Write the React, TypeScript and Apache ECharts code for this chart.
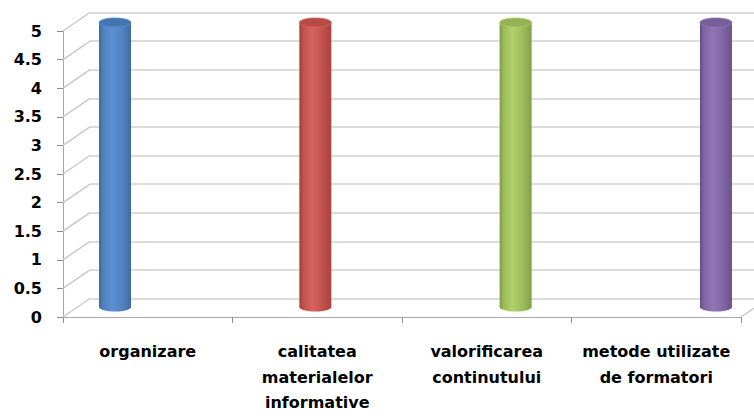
import React, { useEffect, useRef } from "react";
import * as echarts from "echarts";

const categories = [
  "organizare",
  "calitatea\nmaterialelor\ninformative",
  "valorificarea\ncontinutului",
  "metode utilizate\nde formatori",
];
const values = [5, 5, 5, 5];
const yTicks = [0, 0.5, 1, 1.5, 2, 2.5, 3, 3.5, 4, 4.5, 5];
const barColors = [
  { edge: "#3B659C", light: "#5D90D4", mid: "#4F81BD", right: "#3F6BA4", top: "#4474B0" },
  { edge: "#9E3E3B", light: "#D66460", mid: "#C0504D", right: "#A8433F", top: "#B54A47" },
  { edge: "#7C9A43", light: "#AFD06A", mid: "#9BBB59", right: "#82A047", top: "#93B354" },
  { edge: "#634C83", light: "#9275B8", mid: "#8064A2", right: "#69518A", top: "#785D99" },
];

const FONT = "DejaVu Sans";
const FRONT = { left: 63, top: 31, width: 678, height: 286 };
const BACK = { left: 90, top: 12.5, width: 678, height: 286 };
const CYL = { left: 90, top: 22.5, width: 650, height: 284.5 };

export default function App() {
  const ref = useRef<HTMLDivElement>(null);
  useEffect(() => {
    const chart = echarts.init(ref.current!, null, { renderer: "svg" });
    const dx = BACK.left - FRONT.left;
    const dy = BACK.top - FRONT.top;
    const option: any = {
      animation: false,
      backgroundColor: "#ffffff",
      grid: [
        { ...FRONT, outerBoundsMode: "none", containLabel: false },
        { ...BACK, outerBoundsMode: "none", containLabel: false },
        { ...CYL, outerBoundsMode: "none", containLabel: false },
      ],
      xAxis: [
        {
          gridIndex: 0,
          type: "category",
          data: categories,
          axisLine: { show: true, lineStyle: { color: "#A6A6A6", width: 1 } },
          axisTick: { show: true, length: 6, lineStyle: { color: "#8C8C8C" } },
          axisLabel: {
            fontFamily: FONT,
            fontWeight: "bold",
            fontSize: 16,
            color: "#000",
            lineHeight: 25.5,
            margin: 22,
            interval: 0,
          },
          splitLine: { show: false },
        },
        { gridIndex: 1, type: "value", min: 0, max: 1, show: false },
        { gridIndex: 2, type: "value", min: -0.125, max: 3.12, show: false },
      ],
      yAxis: [
        {
          gridIndex: 0,
          type: "value",
          min: 0,
          max: 5,
          interval: 0.5,
          axisLine: { show: true, lineStyle: { color: "#A6A6A6", width: 1 } },
          axisTick: { show: true, length: 6, lineStyle: { color: "#8C8C8C" } },
          axisLabel: {
            fontFamily: FONT,
            fontWeight: "bold",
            fontSize: 16,
            color: "#000",
            margin: 21,
          },
          splitLine: { show: false },
        },
        {
          gridIndex: 1,
          type: "value",
          min: 0,
          max: 5,
          interval: 0.5,
          axisLine: { show: false },
          axisTick: { show: false },
          axisLabel: { show: false },
          splitLine: { show: true, lineStyle: { color: "#D0D0D0", width: 1.6 } },
        },
        { gridIndex: 2, type: "value", min: 0, max: 5, show: false },
      ],
      series: [
        {
          type: "custom",
          xAxisIndex: 0,
          yAxisIndex: 0,
          silent: true,
          data: yTicks.map((v) => [0, v]),
          renderItem: (params: any, api: any) => {
            const v = api.value(1);
            const y = api.coord([0, v])[1];
            const x = params.coordSys.x;
            return {
              type: "line",
              shape: { x1: x, y1: y, x2: x + dx, y2: y + dy },
              style: { stroke: "#C8C8C8", lineWidth: 1.4 },
            };
          },
        },
        {
          type: "custom",
          xAxisIndex: 0,
          yAxisIndex: 0,
          silent: true,
          data: [[categories.length - 1, 0]],
          renderItem: (params: any, api: any) => {
            const y = api.coord([0, 0])[1];
            const x = params.coordSys.x + params.coordSys.width;
            return {
              type: "line",
              shape: { x1: x, y1: y, x2: x + dx, y2: y + dy },
              style: { stroke: "#C8C8C8", lineWidth: 1.4 },
            };
          },
        },
        {
          type: "custom",
          xAxisIndex: 2,
          yAxisIndex: 2,
          silent: true,
          data: values.map((v, i) => [i, v]),
          renderItem: (params: any, api: any) => {
            const i = api.value(0);
            const top = api.coord([i, api.value(1)]);
            const base = api.coord([i, 0]);
            const c = barColors[params.dataIndex % barColors.length];
            const w = 32;
            const rx = w / 2;
            const ry = 4.5;
            const grad = {
              type: "linear",
              x: 0,
              y: 0,
              x2: 1,
              y2: 0,
              colorStops: [
                { offset: 0, color: c.edge },
                { offset: 0.12, color: c.mid },
                { offset: 0.4, color: c.light },
                { offset: 0.75, color: c.mid },
                { offset: 1, color: c.right },
              ],
            };
            return {
              type: "group",
              children: [
                {
                  type: "ellipse",
                  shape: { cx: base[0], cy: base[1], rx, ry },
                  style: { fill: grad },
                },
                {
                  type: "rect",
                  shape: { x: top[0] - rx, y: top[1], width: w, height: base[1] - top[1] },
                  style: { fill: grad },
                },
                {
                  type: "ellipse",
                  shape: { cx: top[0], cy: top[1], rx, ry },
                  style: { fill: c.top, stroke: c.light, lineWidth: 0.8 },
                },
              ],
            };
          },
        },
      ],
    };
    chart.setOption(option);
    return () => chart.dispose();
  }, []);
  return (
    <div
      ref={ref}
      style={{ position: "absolute", left: 0, top: 0, width: 754, height: 416 }}
    />
  );
}
